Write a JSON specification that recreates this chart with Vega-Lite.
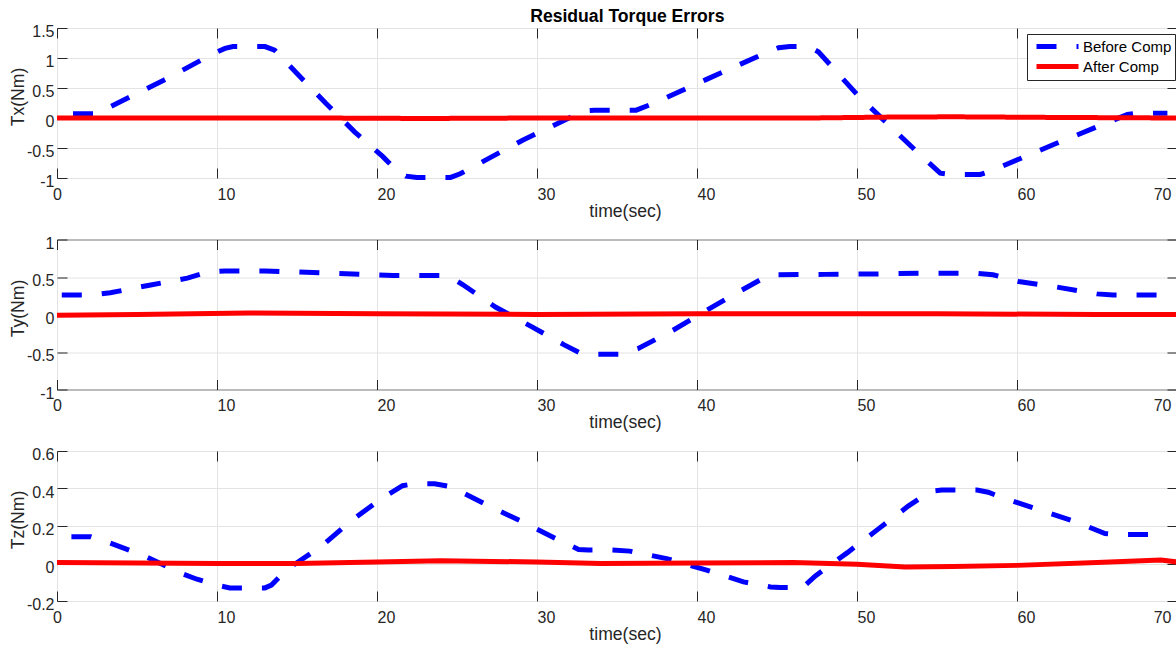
{
  "$schema": "https://vega.github.io/schema/vega-lite/v6.json",
  "autosize": {"type": "pad"},
  "padding": {"left": 9, "top": 8, "right": 0, "bottom": 0},
  "background": "white",
  "title": {"text": "Residual Torque Errors", "font": "Liberation Sans", "fontSize": 17.6, "fontWeight": "bold", "color": "#000000", "anchor": "middle", "baseline": "alphabetic", "offset": -17, "dx": 29},
  "bounds": "flush",
  "spacing": 61.5,
  "config": {
    "view": {"stroke": "#262626", "strokeWidth": 1},
    "axis": {"labelFont": "Liberation Sans", "labelFontSize": 16, "labelColor": "#262626", "titleFont": "Liberation Sans", "titleFontSize": 17.6, "titleFontWeight": "normal", "titleColor": "#262626", "tickColor": "#262626", "gridColor": "#e3e3e3", "gridWidth": 1, "domain": false}
  },
  "datasets": {
    "d": [
      {"panel": "Tx", "series": "Before Comp", "t": 1, "v": 0.07},
      {"panel": "Tx", "series": "Before Comp", "t": 2.4, "v": 0.07},
      {"panel": "Tx", "series": "Before Comp", "t": 3.27, "v": 0.18},
      {"panel": "Tx", "series": "Before Comp", "t": 6.67, "v": 0.63},
      {"panel": "Tx", "series": "Before Comp", "t": 9.83, "v": 1.08},
      {"panel": "Tx", "series": "Before Comp", "t": 10.5, "v": 1.16},
      {"panel": "Tx", "series": "Before Comp", "t": 11, "v": 1.19},
      {"panel": "Tx", "series": "Before Comp", "t": 13, "v": 1.19},
      {"panel": "Tx", "series": "Before Comp", "t": 13.6, "v": 1.13},
      {"panel": "Tx", "series": "Before Comp", "t": 16.8, "v": 0.245},
      {"panel": "Tx", "series": "Before Comp", "t": 18.6, "v": -0.23},
      {"panel": "Tx", "series": "Before Comp", "t": 20.35, "v": -0.64},
      {"panel": "Tx", "series": "Before Comp", "t": 21.2, "v": -0.87},
      {"panel": "Tx", "series": "Before Comp", "t": 21.8, "v": -0.97},
      {"panel": "Tx", "series": "Before Comp", "t": 22.5, "v": -0.99},
      {"panel": "Tx", "series": "Before Comp", "t": 24.6, "v": -0.99},
      {"panel": "Tx", "series": "Before Comp", "t": 25.2, "v": -0.93},
      {"panel": "Tx", "series": "Before Comp", "t": 29.1, "v": -0.37},
      {"panel": "Tx", "series": "Before Comp", "t": 32.4, "v": 0.05},
      {"panel": "Tx", "series": "Before Comp", "t": 33, "v": 0.12},
      {"panel": "Tx", "series": "Before Comp", "t": 33.6, "v": 0.13},
      {"panel": "Tx", "series": "Before Comp", "t": 36.2, "v": 0.13},
      {"panel": "Tx", "series": "Before Comp", "t": 37.3, "v": 0.245},
      {"panel": "Tx", "series": "Before Comp", "t": 40.56, "v": 0.64},
      {"panel": "Tx", "series": "Before Comp", "t": 44, "v": 1.05},
      {"panel": "Tx", "series": "Before Comp", "t": 45.1, "v": 1.17},
      {"panel": "Tx", "series": "Before Comp", "t": 45.8, "v": 1.19},
      {"panel": "Tx", "series": "Before Comp", "t": 47, "v": 1.19},
      {"panel": "Tx", "series": "Before Comp", "t": 47.6, "v": 1.1},
      {"panel": "Tx", "series": "Before Comp", "t": 50.04, "v": 0.38},
      {"panel": "Tx", "series": "Before Comp", "t": 53.5, "v": -0.5},
      {"panel": "Tx", "series": "Before Comp", "t": 55.2, "v": -0.92},
      {"panel": "Tx", "series": "Before Comp", "t": 55.8, "v": -0.94},
      {"panel": "Tx", "series": "Before Comp", "t": 57.7, "v": -0.94},
      {"panel": "Tx", "series": "Before Comp", "t": 58.3, "v": -0.89},
      {"panel": "Tx", "series": "Before Comp", "t": 62.4, "v": -0.43},
      {"panel": "Tx", "series": "Before Comp", "t": 66.9, "v": 0.06},
      {"panel": "Tx", "series": "Before Comp", "t": 67.5, "v": 0.08},
      {"panel": "Tx", "series": "Before Comp", "t": 69.4, "v": 0.08},
      {"panel": "Tx", "series": "After Comp", "t": 0, "v": 0},
      {"panel": "Tx", "series": "After Comp", "t": 16, "v": 0},
      {"panel": "Tx", "series": "After Comp", "t": 23, "v": -0.008},
      {"panel": "Tx", "series": "After Comp", "t": 30, "v": 0},
      {"panel": "Tx", "series": "After Comp", "t": 47, "v": 0},
      {"panel": "Tx", "series": "After Comp", "t": 52, "v": 0.015},
      {"panel": "Tx", "series": "After Comp", "t": 56, "v": 0.02},
      {"panel": "Tx", "series": "After Comp", "t": 62, "v": 0.01},
      {"panel": "Tx", "series": "After Comp", "t": 70, "v": 0},
      {"panel": "Ty", "series": "Before Comp", "t": 0.3, "v": 0.26},
      {"panel": "Ty", "series": "Before Comp", "t": 2.1, "v": 0.26},
      {"panel": "Ty", "series": "Before Comp", "t": 3.33, "v": 0.29},
      {"panel": "Ty", "series": "Before Comp", "t": 5.77, "v": 0.39},
      {"panel": "Ty", "series": "Before Comp", "t": 8.15, "v": 0.485},
      {"panel": "Ty", "series": "Before Comp", "t": 9.4, "v": 0.565},
      {"panel": "Ty", "series": "Before Comp", "t": 10.5, "v": 0.58},
      {"panel": "Ty", "series": "Before Comp", "t": 13, "v": 0.58},
      {"panel": "Ty", "series": "Before Comp", "t": 16, "v": 0.56},
      {"panel": "Ty", "series": "Before Comp", "t": 19, "v": 0.535},
      {"panel": "Ty", "series": "Before Comp", "t": 21, "v": 0.52},
      {"panel": "Ty", "series": "Before Comp", "t": 24.2, "v": 0.52},
      {"panel": "Ty", "series": "Before Comp", "t": 24.8, "v": 0.47},
      {"panel": "Ty", "series": "Before Comp", "t": 25.35, "v": 0.4},
      {"panel": "Ty", "series": "Before Comp", "t": 27.4, "v": 0.1},
      {"panel": "Ty", "series": "Before Comp", "t": 29.6, "v": -0.155},
      {"panel": "Ty", "series": "Before Comp", "t": 31.7, "v": -0.405},
      {"panel": "Ty", "series": "Before Comp", "t": 32.75, "v": -0.52},
      {"panel": "Ty", "series": "Before Comp", "t": 33.5, "v": -0.53},
      {"panel": "Ty", "series": "Before Comp", "t": 35.2, "v": -0.53},
      {"panel": "Ty", "series": "Before Comp", "t": 36.3, "v": -0.457},
      {"panel": "Ty", "series": "Before Comp", "t": 38.5, "v": -0.21},
      {"panel": "Ty", "series": "Before Comp", "t": 40.56, "v": 0.05},
      {"panel": "Ty", "series": "Before Comp", "t": 42.75, "v": 0.32},
      {"panel": "Ty", "series": "Before Comp", "t": 44.2, "v": 0.49},
      {"panel": "Ty", "series": "Before Comp", "t": 45, "v": 0.53},
      {"panel": "Ty", "series": "Before Comp", "t": 48, "v": 0.535},
      {"panel": "Ty", "series": "Before Comp", "t": 51, "v": 0.54},
      {"panel": "Ty", "series": "Before Comp", "t": 54, "v": 0.55},
      {"panel": "Ty", "series": "Before Comp", "t": 57.5, "v": 0.55},
      {"panel": "Ty", "series": "Before Comp", "t": 58.5, "v": 0.53},
      {"panel": "Ty", "series": "Before Comp", "t": 60.1, "v": 0.44},
      {"panel": "Ty", "series": "Before Comp", "t": 62.5, "v": 0.365},
      {"panel": "Ty", "series": "Before Comp", "t": 65, "v": 0.275},
      {"panel": "Ty", "series": "Before Comp", "t": 66, "v": 0.26},
      {"panel": "Ty", "series": "Before Comp", "t": 69.4, "v": 0.26},
      {"panel": "Ty", "series": "After Comp", "t": 0, "v": -0.01},
      {"panel": "Ty", "series": "After Comp", "t": 5, "v": 0},
      {"panel": "Ty", "series": "After Comp", "t": 12, "v": 0.02},
      {"panel": "Ty", "series": "After Comp", "t": 20, "v": 0.01},
      {"panel": "Ty", "series": "After Comp", "t": 30, "v": 0},
      {"panel": "Ty", "series": "After Comp", "t": 40, "v": 0.01},
      {"panel": "Ty", "series": "After Comp", "t": 45, "v": 0.01},
      {"panel": "Ty", "series": "After Comp", "t": 55, "v": 0.01},
      {"panel": "Ty", "series": "After Comp", "t": 65, "v": 0},
      {"panel": "Ty", "series": "After Comp", "t": 70, "v": 0},
      {"panel": "Tz", "series": "Before Comp", "t": 0.9, "v": 0.143},
      {"panel": "Tz", "series": "Before Comp", "t": 2.1, "v": 0.143},
      {"panel": "Tz", "series": "Before Comp", "t": 3.27, "v": 0.111},
      {"panel": "Tz", "series": "Before Comp", "t": 5.56, "v": 0.037},
      {"panel": "Tz", "series": "Before Comp", "t": 7.67, "v": -0.049},
      {"panel": "Tz", "series": "Before Comp", "t": 8.75, "v": -0.084},
      {"panel": "Tz", "series": "Before Comp", "t": 10.1, "v": -0.118},
      {"panel": "Tz", "series": "Before Comp", "t": 10.8, "v": -0.13},
      {"panel": "Tz", "series": "Before Comp", "t": 13, "v": -0.13},
      {"panel": "Tz", "series": "Before Comp", "t": 13.4, "v": -0.115},
      {"panel": "Tz", "series": "Before Comp", "t": 14.4, "v": -0.03},
      {"panel": "Tz", "series": "Before Comp", "t": 16.5, "v": 0.09},
      {"panel": "Tz", "series": "Before Comp", "t": 18.27, "v": 0.22},
      {"panel": "Tz", "series": "Before Comp", "t": 20.25, "v": 0.345},
      {"panel": "Tz", "series": "Before Comp", "t": 21.6, "v": 0.415},
      {"panel": "Tz", "series": "Before Comp", "t": 22.3, "v": 0.425},
      {"panel": "Tz", "series": "Before Comp", "t": 23.6, "v": 0.425},
      {"panel": "Tz", "series": "Before Comp", "t": 24.6, "v": 0.41},
      {"panel": "Tz", "series": "Before Comp", "t": 26.8, "v": 0.315},
      {"panel": "Tz", "series": "Before Comp", "t": 29, "v": 0.226},
      {"panel": "Tz", "series": "Before Comp", "t": 31.2, "v": 0.132},
      {"panel": "Tz", "series": "Before Comp", "t": 32.6, "v": 0.075},
      {"panel": "Tz", "series": "Before Comp", "t": 33.2, "v": 0.072},
      {"panel": "Tz", "series": "Before Comp", "t": 34.6, "v": 0.072},
      {"panel": "Tz", "series": "Before Comp", "t": 35.8, "v": 0.066},
      {"panel": "Tz", "series": "Before Comp", "t": 38.1, "v": 0.026},
      {"panel": "Tz", "series": "Before Comp", "t": 40.6, "v": -0.035},
      {"panel": "Tz", "series": "Before Comp", "t": 42.9, "v": -0.098},
      {"panel": "Tz", "series": "Before Comp", "t": 44.6, "v": -0.125},
      {"panel": "Tz", "series": "Before Comp", "t": 45.2, "v": -0.128},
      {"panel": "Tz", "series": "Before Comp", "t": 46.6, "v": -0.128},
      {"panel": "Tz", "series": "Before Comp", "t": 47.4, "v": -0.066},
      {"panel": "Tz", "series": "Before Comp", "t": 49.4, "v": 0.058},
      {"panel": "Tz", "series": "Before Comp", "t": 51.3, "v": 0.182},
      {"panel": "Tz", "series": "Before Comp", "t": 53.2, "v": 0.306},
      {"panel": "Tz", "series": "Before Comp", "t": 54.6, "v": 0.385},
      {"panel": "Tz", "series": "Before Comp", "t": 55.3, "v": 0.392},
      {"panel": "Tz", "series": "Before Comp", "t": 57.5, "v": 0.392},
      {"panel": "Tz", "series": "Before Comp", "t": 58.2, "v": 0.38},
      {"panel": "Tz", "series": "Before Comp", "t": 59.1, "v": 0.351},
      {"panel": "Tz", "series": "Before Comp", "t": 61.5, "v": 0.283},
      {"panel": "Tz", "series": "Before Comp", "t": 63.8, "v": 0.218},
      {"panel": "Tz", "series": "Before Comp", "t": 65.5, "v": 0.16},
      {"panel": "Tz", "series": "Before Comp", "t": 66.2, "v": 0.155},
      {"panel": "Tz", "series": "Before Comp", "t": 69.3, "v": 0.155},
      {"panel": "Tz", "series": "After Comp", "t": 0, "v": 0.005},
      {"panel": "Tz", "series": "After Comp", "t": 10, "v": 0},
      {"panel": "Tz", "series": "After Comp", "t": 15, "v": 0},
      {"panel": "Tz", "series": "After Comp", "t": 20, "v": 0.008},
      {"panel": "Tz", "series": "After Comp", "t": 24, "v": 0.015},
      {"panel": "Tz", "series": "After Comp", "t": 30, "v": 0.008},
      {"panel": "Tz", "series": "After Comp", "t": 34, "v": 0},
      {"panel": "Tz", "series": "After Comp", "t": 40, "v": 0.003},
      {"panel": "Tz", "series": "After Comp", "t": 46, "v": 0.005},
      {"panel": "Tz", "series": "After Comp", "t": 50, "v": -0.004},
      {"panel": "Tz", "series": "After Comp", "t": 53, "v": -0.018},
      {"panel": "Tz", "series": "After Comp", "t": 56, "v": -0.016},
      {"panel": "Tz", "series": "After Comp", "t": 60, "v": -0.01},
      {"panel": "Tz", "series": "After Comp", "t": 65, "v": 0.005},
      {"panel": "Tz", "series": "After Comp", "t": 69, "v": 0.018},
      {"panel": "Tz", "series": "After Comp", "t": 70, "v": 0.008}
    ]
  },
  "data": {"name": "d"},
  "resolve": {"scale": {"color": "independent", "strokeDash": "independent"}, "legend": {"color": "independent", "strokeDash": "independent"}},
  "vconcat": [
    {
      "width": 1120, "height": 150,
      "transform": [{"filter": "datum.panel == 'Tx'"}],
      "resolve": {"axis": {"x": "independent", "y": "independent"}},
      "layer": [
        {
          "transform": [{"filter": "datum.series == 'Before Comp'"}],
          "mark": {"type": "line", "strokeWidth": 5},
          "encoding": {
            "x": {"field": "t", "type": "quantitative", "scale": {"domain": [0, 70], "nice": false, "zero": false},
              "axis": {"title": "time(sec)", "values": [0, 10, 20, 30, 40, 50, 60, 70], "labelExpr": "'' + datum.value", "tickSize": -10, "labelPadding": 18, "labelFlush": false,
                "labelAlign": {"condition": [{"test": "datum.value == 0", "value": "center"}, {"test": "datum.value == 70", "value": "right"}], "value": "left"},
                "labelOffset": {"condition": {"test": "datum.value == 70", "value": -6}, "value": 0},
                "grid": true, "titleX": 568, "titleY": 38, "titleBaseline": "alphabetic"}},
            "y": {"field": "v", "type": "quantitative", "scale": {"domain": [-1, 1.5], "nice": false, "zero": false},
              "axis": {"title": "Tx(Nm)", "values": [-1, -0.5, 0, 0.5, 1, 1.5], "labelExpr": "'' + datum.value", "tickSize": -10, "labelPadding": 13, "labelOffset": 3.5, "grid": true, "titleX": -33.4, "titleY": 68.5, "titleBaseline": "alphabetic", "titleAngle": -90}},
            "color": {"field": "series", "type": "nominal", "scale": {"domain": ["Before Comp", "After Comp"], "range": ["#0000ff", "#ff0000"]},
              "legend": {"orient": "none", "legendX": 970, "legendY": 6, "title": null, "symbolType": "M-3,0H3", "symbolSize": 196, "symbolStrokeWidth": 5, "symbolOffset": 18, "labelFontSize": 15, "labelFont": "Liberation Sans", "labelColor": "#000000", "fillColor": "#ffffff", "strokeColor": "#262626", "padding": 3, "labelOffset": 16, "rowPadding": -5}},
            "strokeDash": {"field": "series", "type": "nominal", "scale": {"domain": ["Before Comp", "After Comp"], "range": [[20, 20], [1, 0]]},
              "legend": {"orient": "none", "legendX": 970, "legendY": 6, "title": null, "symbolType": "M-3,0H3", "symbolSize": 196, "symbolStrokeWidth": 5, "symbolOffset": 18, "labelFontSize": 15, "labelFont": "Liberation Sans", "labelColor": "#000000", "fillColor": "#ffffff", "strokeColor": "#262626", "padding": 3, "labelOffset": 16, "rowPadding": -5}}
          }
        },
        {
          "transform": [{"filter": "datum.series == 'After Comp'"}],
          "mark": {"type": "line", "strokeWidth": 5},
          "encoding": {
            "x": {"field": "t", "type": "quantitative", "axis": {"orient": "top", "values": [0, 10, 20, 30, 40, 50, 60, 70], "labels": false, "title": null, "grid": false, "tickSize": -10}},
            "y": {"field": "v", "type": "quantitative", "axis": {"orient": "right", "values": [-1, -0.5, 0, 0.5, 1, 1.5], "labels": false, "title": null, "grid": false, "tickSize": -10}},
            "color": {"field": "series", "type": "nominal"},
            "strokeDash": {"field": "series", "type": "nominal"}
          }
        }
      ]
    },
    {
      "width": 1120, "height": 150,
      "transform": [{"filter": "datum.panel == 'Ty'"}],
      "resolve": {"axis": {"x": "independent", "y": "independent"}},
      "layer": [
        {
          "transform": [{"filter": "datum.series == 'Before Comp'"}],
          "mark": {"type": "line", "strokeWidth": 5, "color": "#0000ff", "strokeDash": [20, 20]},
          "encoding": {
            "x": {"field": "t", "type": "quantitative", "scale": {"domain": [0, 70], "nice": false, "zero": false},
              "axis": {"title": "time(sec)", "values": [0, 10, 20, 30, 40, 50, 60, 70], "labelExpr": "'' + datum.value", "tickSize": -10, "labelPadding": 18, "labelFlush": false,
                "labelAlign": {"condition": [{"test": "datum.value == 0", "value": "center"}, {"test": "datum.value == 70", "value": "right"}], "value": "left"},
                "labelOffset": {"condition": {"test": "datum.value == 70", "value": -6}, "value": 0},
                "grid": true, "titleX": 568, "titleY": 38, "titleBaseline": "alphabetic"}},
            "y": {"field": "v", "type": "quantitative", "scale": {"domain": [-1, 1], "nice": false, "zero": false},
              "axis": {"title": "Ty(Nm)", "values": [-1, -0.5, 0, 0.5, 1], "labelExpr": "'' + datum.value", "tickSize": -10, "labelPadding": 13, "labelOffset": 3.5, "grid": true, "titleX": -33.4, "titleY": 68.5, "titleBaseline": "alphabetic", "titleAngle": -90}}
          }
        },
        {
          "transform": [{"filter": "datum.series == 'After Comp'"}],
          "mark": {"type": "line", "strokeWidth": 5, "color": "#ff0000"},
          "encoding": {
            "x": {"field": "t", "type": "quantitative", "axis": {"orient": "top", "values": [0, 10, 20, 30, 40, 50, 60, 70], "labels": false, "title": null, "grid": false, "tickSize": -10}},
            "y": {"field": "v", "type": "quantitative", "axis": {"orient": "right", "values": [-1, -0.5, 0, 0.5, 1], "labels": false, "title": null, "grid": false, "tickSize": -10}}
          }
        }
      ]
    },
    {
      "width": 1120, "height": 150,
      "transform": [{"filter": "datum.panel == 'Tz'"}],
      "resolve": {"axis": {"x": "independent", "y": "independent"}},
      "layer": [
        {
          "transform": [{"filter": "datum.series == 'Before Comp'"}],
          "mark": {"type": "line", "strokeWidth": 5, "color": "#0000ff", "strokeDash": [20, 20]},
          "encoding": {
            "x": {"field": "t", "type": "quantitative", "scale": {"domain": [0, 70], "nice": false, "zero": false},
              "axis": {"title": "time(sec)", "values": [0, 10, 20, 30, 40, 50, 60, 70], "labelExpr": "'' + datum.value", "tickSize": -10, "labelPadding": 18, "labelFlush": false,
                "labelAlign": {"condition": [{"test": "datum.value == 0", "value": "center"}, {"test": "datum.value == 70", "value": "right"}], "value": "left"},
                "labelOffset": {"condition": {"test": "datum.value == 70", "value": -6}, "value": 0},
                "grid": true, "titleX": 568, "titleY": 38, "titleBaseline": "alphabetic"}},
            "y": {"field": "v", "type": "quantitative", "scale": {"domain": [-0.2, 0.6], "nice": false, "zero": false},
              "axis": {"title": "Tz(Nm)", "values": [-0.2, 0, 0.2, 0.4, 0.6], "labelExpr": "'' + datum.value", "tickSize": -10, "labelPadding": 13, "labelOffset": 3.5, "grid": true, "titleX": -33.4, "titleY": 68.5, "titleBaseline": "alphabetic", "titleAngle": -90}}
          }
        },
        {
          "transform": [{"filter": "datum.series == 'After Comp'"}],
          "mark": {"type": "line", "strokeWidth": 5, "color": "#ff0000"},
          "encoding": {
            "x": {"field": "t", "type": "quantitative", "axis": {"orient": "top", "values": [0, 10, 20, 30, 40, 50, 60, 70], "labels": false, "title": null, "grid": false, "tickSize": -10}},
            "y": {"field": "v", "type": "quantitative", "axis": {"orient": "right", "values": [-0.2, 0, 0.2, 0.4, 0.6], "labels": false, "title": null, "grid": false, "tickSize": -10}}
          }
        }
      ]
    }
  ]
}
